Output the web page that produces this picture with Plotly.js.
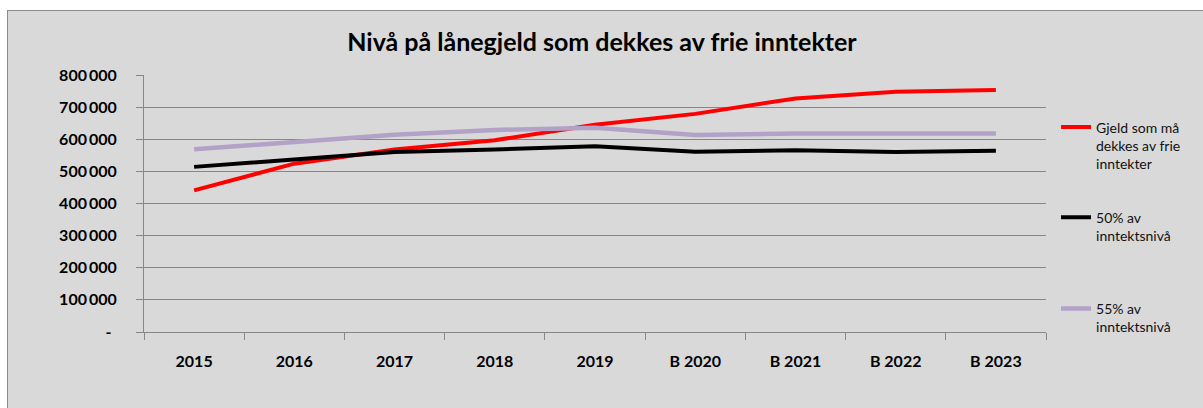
<!DOCTYPE html>
<html>
<head>
<meta charset="utf-8">
<script src="https://cdn.plot.ly/plotly-3.0.1.min.js"></script>
<style>
  html, body { margin: 0; padding: 0; background: #ffffff; width: 1203px; height: 408px; overflow: hidden; }
  #frame { position: absolute; left: 7px; top: 10px; width: 1196px; height: 398px; background: #d9d9d9;
           border-top: 1px solid #8c8c8c; border-left: 1px solid #8c8c8c; box-sizing: border-box; }
  #chart { position: absolute; left: 0; top: 0; width: 1195px; height: 397px; }
</style>
</head>
<body>
<div id="frame"><div id="chart"></div></div>
<script>
const categories = ['2015', '2016', '2017', '2018', '2019', 'B 2020', 'B 2021', 'B 2022', 'B 2023'];
const gjeldValues = [441000, 524000, 568000, 597000, 645000, 679000, 727000, 748000, 753000];
const femtiValues = [514000, 538000, 560000, 568000, 578000, 561000, 566000, 560000, 564000];
const femtifemValues = [569000, 593000, 614000, 629000, 636000, 613000, 618000, 618000, 618000];
const yTickValues = [0, 100000, 200000, 300000, 400000, 500000, 600000, 700000, 800000];
const yTickLabels = ['-\u2004', '100\u2009000', '200\u2009000', '300\u2009000', '400\u2009000', '500\u2009000', '600\u2009000', '700\u2009000', '800\u2009000'];
const seriesNames = ['Gjeld som må<br>dekkes av frie<br>inntekter', '50% av<br>inntektsnivå', '55% av<br>inntektsnivå'];

const FONT = 'Lato, "Open Sans", sans-serif';
const grid = '#878787';

const traces = [
  { x: categories, y: gjeldValues, name: seriesNames[0], type: 'scatter', mode: 'lines',
    line: { color: '#ff0000', width: 4 }, legend: 'legend' },
  { x: categories, y: femtiValues, name: seriesNames[1], type: 'scatter', mode: 'lines',
    line: { color: '#000000', width: 4 }, legend: 'legend2' },
  { x: categories, y: femtifemValues, name: seriesNames[2], type: 'scatter', mode: 'lines',
    line: { color: '#b3a2c7', width: 4.5 }, legend: 'legend3' }
];

function leg(y) {
  return { xref: 'container', yref: 'container', x: 0.877, y: y, xanchor: 'left', yanchor: 'top',
           bgcolor: 'rgba(0,0,0,0)', borderwidth: 0, valign: 'top',
           font: { family: FONT, size: 14, color: '#111111' } };
}

const layout = {
  width: 1195, height: 397,
  paper_bgcolor: '#d9d9d9', plot_bgcolor: '#d9d9d9',
  margin: { l: 136, r: 157, t: 64, b: 76 },
  font: { family: FONT, color: '#000000' },
  title: { text: '<b>Nivå på lånegjeld som dekkes av frie inntekter</b>', xref: 'container', yref: 'container',
           x: 0.497, xanchor: 'center', y: 0.921, yanchor: 'middle',
           font: { family: FONT, size: 25, color: '#000000' } },
  showlegend: true,
  legend: leg(0.747),
  legend2: leg(0.52),
  legend3: leg(0.29),
  xaxis: { type: 'category', range: [-0.5, 8.5], tickson: 'boundaries', ticks: 'outside', ticklen: 7, tickcolor: grid, tickwidth: 1,
           showline: true, linecolor: grid, linewidth: 1, showgrid: false, zeroline: false,
           tickfont: { family: FONT, size: 16, color: '#000000', weight: 'bold' }, ticklabelstandoff: 15 },
  yaxis: { range: [0, 800000], tickvals: yTickValues, ticktext: yTickLabels, ticks: 'outside', ticklen: 7,
           tickcolor: grid, tickwidth: 1, showline: true, linecolor: grid, linewidth: 1,
           showgrid: true, gridcolor: grid, gridwidth: 1, zeroline: false,
           tickfont: { family: FONT, size: 16, color: '#000000', weight: 'bold' }, ticklabelstandoff: 16 }
};

Plotly.newPlot('chart', traces, layout, { displayModeBar: false, staticPlot: true });
</script>
</body>
</html>
